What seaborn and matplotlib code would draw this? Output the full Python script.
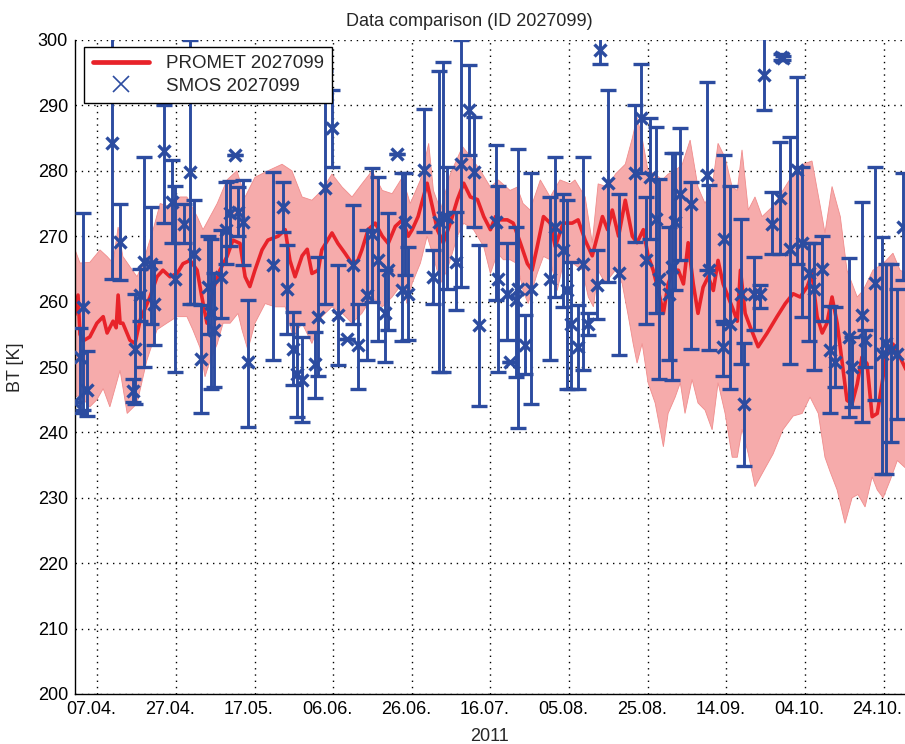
import numpy as np
import pandas as pd
import matplotlib
matplotlib.use("Agg")
import matplotlib.pyplot as plt
import matplotlib.dates as mdates
import matplotlib.transforms as mtransforms
from matplotlib.lines import Line2D
import seaborn as sns

# ---------------- data (days since 2011-04-01) ----------------
promet_day = [0.3, 1.1, 1.6, 2.4, 4.1, 5.9, 7.5, 8.5, 10, 10.8, 11.3, 11.8, 12.5, 14.3, 15.6, 16.9,
              19.4, 21.2, 22.7, 24.5, 26.3, 27.8, 29.6, 31.4, 32.6, 33.9, 35.4, 37.2, 39, 40.5, 42.3,
              43.6, 44.8, 46.1, 47.9, 49.4, 52, 53.8, 55, 56.3, 58.1, 59.4, 60.6, 62.2, 63.1, 65.7,
              67.2, 69, 70.8, 72.3, 73.3, 74.9, 76.7, 78.5, 80, 81.8, 83.6, 85.1, 86.1, 87.6, 89.9,
              91.2, 92.5, 94, 95.8, 97.6, 99.2, 100.9, 102.7, 104.3, 106, 107.3, 108.5, 110.3, 111.8,
              113.6, 115.4, 116.6, 117.9, 119.5, 121.2, 122.5, 124.5, 126.8, 128.3, 130.1, 131.9,
              133.2, 134.5, 135.8, 137, 138.6, 140.3, 142.1, 143.3, 144.9, 146.1, 147.4, 148.7, 150,
              151.2, 152.5, 153.8, 155.1, 156.3, 157.6, 158.8, 160.1, 161.4, 162.7, 163.9, 165.2,
              166.5, 167.8, 168.8, 169.6, 170.8, 172.1, 174.1, 176.4, 178.9, 181, 183, 184.8, 186.6,
              187.8, 189.1, 190.4, 191.6, 192.9, 194.2, 195.5, 196.7, 198, 199.3, 200.5, 201.8,
              203.1, 204.4, 205.6, 206.9, 208.4, 210.2, 212.2]
promet_bt = [258, 261, 255, 254, 254.6, 256.7, 257.7, 255.2, 257, 256, 261, 256.7, 256.7, 254.1, 253.6, 257.2,
             260.7, 263.8, 264.8, 263.8, 264.3, 265.8, 266.3, 264.8, 260.7, 256.7, 261.7, 264.8, 266.9, 269.4, 268.9,
             263.8, 262.3, 264.8, 267.9, 269.4, 270, 271, 266.3, 263.8, 267, 268, 264.3, 264.8, 267.9, 270.5,
             268.9, 267.4, 265.8, 266.3, 267.9, 271, 272, 270, 268.9, 271.5, 272.5, 270, 271, 273, 278.1,
             274.6, 271, 269, 272, 275.6, 278.1, 276, 275.6, 273, 271, 273, 272.5, 272.5, 272,
             269, 265.8, 264.8, 268.4, 273, 272, 268.4, 272, 272, 272.5, 269.4, 267,
             270, 273, 271, 274, 270, 275.5, 270, 269, 271, 267, 264.8, 261.7, 258.2,
             262.7, 264.8, 264.8, 262.7, 269, 262.7, 258.2, 262.2, 263.8, 261.7, 266.3, 262.7,
             260.7, 258.7, 257, 264.8, 258.2, 256.1, 253.1, 255.2, 257.7, 259.7, 261.2, 260.7, 262.3,
             264.3, 257.7, 255.2, 256.7, 260.7, 256.7, 250.6, 244.9, 244.4, 247.4, 251.5, 250.5,
             242.4, 242.9, 247.4, 252.5, 253.5, 251.5, 249]

band_hi_day = [0.3, 1.6, 4.1, 6.7, 8.5, 10, 11.3, 12.5, 16.1, 17.6, 20.2, 22, 24.5, 27, 28.8, 31.4, 32.9,
               34.7, 36.5, 39, 41.5, 43.6, 46.1, 49.4, 53, 55.5, 58.1, 60.6, 63.1, 65.7, 68.3, 70.8,
               73.3, 75.9, 78.5, 81, 83.6, 85.6, 88.2, 90.3, 91.5, 93.3, 95.8, 98.9, 100.9, 103.5, 106,
               108, 111, 112.8, 114.3, 116.1, 118.7, 121.2, 123.7, 126.3, 127.5, 130.1, 131.9, 133.4,
               136, 137.8, 140.3, 142.1, 143.3, 144.6, 146.1, 147.9, 149.7, 151.2, 153, 154.8, 156.8,
               158.8, 160.6, 162.4, 163.9, 165.7, 167.5, 168.8, 170, 171.6, 173.3, 175.1, 177.9, 180.4,
               183, 185.5, 187.8, 189.9, 191.1, 192.9, 195, 196.7, 199.3, 200.8, 203.3, 205.9, 208.4,
               210.2, 212.8]
band_hi = [268, 265.9, 266, 267.9, 266.9, 265.9, 271.4, 266.9, 263.8, 265.9, 271, 275, 274.5, 276, 276, 273, 271,
           273, 275, 278.6, 280, 276, 279, 280, 281, 280, 276, 275.5, 277, 279.5, 277.5, 276,
           278, 280, 277, 276.5, 279, 275, 278.6, 284.2, 277, 274, 279.5, 283.7, 282.2, 280, 277.5,
           278.6, 277, 277.5, 275, 274, 278.6, 276, 278.6, 278, 278.6, 276, 269, 278,
           277.5, 279.5, 281, 285, 288.2, 285, 280, 279.5, 278.6, 279.5, 280, 281, 284.7,
           277.5, 275, 277.5, 284.2, 282, 277.5, 277, 283.2, 274, 276, 273, 274.6, 277,
           279.5, 281, 281.5, 274.6, 270.5, 277.6, 273, 264.8, 260.7, 261.7, 264.8, 265.8, 267.4,
           264.8, 264]

band_lo_day = [0.3, 1.6, 4.1, 5.9, 7.5, 9.2, 11.8, 13.6, 16.1, 18.6, 21.2, 23.7, 26.3, 28.8, 30.3, 32.1,
               33.4, 34.7, 36.5, 38, 39.8, 41.8, 42.8, 44.3, 46.1, 48.7, 51.2, 53.8, 55.8, 58.1, 60.6,
               63.1, 65.7, 68.3, 70.8, 73.3, 75.9, 78.5, 81, 83.6, 84.8, 86.1, 88.2, 89.9, 91.5, 93.3,
               95, 97.6, 99.2, 101.7, 104.3, 106, 107.8, 109.3, 111, 112.8, 114.3, 115.6, 117.9, 119.5,
               121.2, 123, 124.5, 127.1, 129.4, 130.9, 132.2, 133.4, 135.2, 137.8, 139.5, 141.1, 142.3,
               143.3, 144.6, 146.1, 147.9, 149.2, 150, 151.2, 153, 154.3, 155.5, 157.3, 158.8, 160.6,
               162.4, 163.9, 165.7, 167.5, 168.8, 170, 171.6, 173.3, 175.4, 177.9, 180.4, 183, 185.3,
               187.3, 189.4, 191.1, 192.4, 194.2, 196.2, 198, 199.5, 201.3, 203.1, 204.4, 205.9, 207.7,
               209.5, 211.5, 212.8]
band_lo = [245.4, 245.7, 243.9, 245, 246.7, 243.9, 249.5, 242.9, 244.4, 251, 255.7, 256.7, 257.7, 257.7, 255.7, 253,
           248.5, 251, 253.5, 256.7, 256.7, 258.2, 255.7, 252.6, 256.7, 259.7, 259.2, 259.2, 254.6, 256.7, 253.6,
           257.7, 259.2, 258.2, 256.7, 258.2, 260.7, 259.2, 260.7, 262.8, 259.7, 262.8, 265.9, 270, 266.9, 262.8,
           264.8, 270, 272, 271, 268.4, 264.3, 267.4, 266.4, 266.4, 265.8, 261.7, 259.7, 264.3, 266.9,
           266.4, 261.7, 265.8, 265.8, 264.8, 260.7, 259.2, 264.8, 262.8, 264.8, 262.8, 257.7, 253.6,
           250.6, 253.6, 247.6, 244.5, 240.4, 237.8, 242.9, 245.4, 247.6, 242.9, 248.1, 244.5, 243.4,
           240.4, 247.6, 242.9, 236.2, 236.2, 240.5, 236.7, 231.7, 234, 236.7, 240.4, 242.5, 242.9,
           245.4, 242.9, 236.2, 234, 231.2, 226.1, 230, 230.5, 228.6, 233.2, 231.2, 230, 232.7,
           235.7, 234.6, 234]

smos_day = [0.0, 1.6, 2.4, 3.3, 9.7, 11.7, 15.0, 15.7, 16.9, 17.9, 19.7, 20.5, 23.0, 25.0, 25.8, 28.0,
            29.7, 30.5, 32.5, 34.2, 35.0, 35.8, 37.5, 38.8, 39.8, 41.0,
            41.8, 43.0, 44.3, 50.7, 53.3, 54.3, 55.8, 56.8, 58.0, 61.4, 62.2, 64.0, 65.7, 67.3, 69.5,
            71.0, 72.3, 74.5, 75.8, 77.4, 79.2, 80.0, 82.3, 83.6,
            84.3, 85.0, 89.0, 91.5, 92.8, 94.0, 95.0, 97.2, 98.5, 100.5, 101.7, 103.0, 107.3, 108.0,
            110.3, 111.0, 112.4, 112.9, 114.9, 116.2, 121.2, 122.5, 124.5, 125.5,
            126.5, 128.3, 129.6, 130.9, 133.2, 134.0, 136.0, 138.6, 142.9, 144.2, 145.5, 146.7, 148.0,
            148.8, 151.4, 152.3, 153.0, 154.3, 157.0, 161.2, 161.6, 165.1, 165.4, 167.0,
            169.7, 170.5, 173.0, 174.6, 175.5, 177.5, 179.6, 180.0, 180.4, 182.1, 183.9, 185.2, 187.0,
            188.3, 190.3, 192.3, 193.6, 197.2, 198.0, 200.6, 201.4, 203.7, 205.7, 206.5, 207.8, 209.5,
            211.0]
smos_bt = [244.6, 251.5, 259.2, 246.5, 284.2, 269.1, 246.4, 252.8, 261.0, 266.0, 265.8, 259.7, 283.0, 275.3, 263.5, 271.9,
           279.8, 267.3, 251.2, 262.2, 258.2, 255.6, 263.8, 270.9, 273.5, 282.4,
           273.7, 272.2, 250.8, 265.6, 274.5, 262.0, 252.8, 249.0, 248.0, 250.5, 257.7, 277.3, 286.5, 258.0, 254.3,
           265.6, 253.3, 261.0, 270.4, 266.3, 258.2, 264.8, 282.6, 261.7,
           272.2, 261.2, 280.1, 263.8, 272.2, 273.0, 273.0, 266.1, 281.1, 289.3, 279.8, 256.4, 272.2, 263.5,
           261.2, 250.8, 260.2, 262.0, 253.3, 262.0, 263.5, 271.4, 267.9, 261.7,
           256.5, 253.0, 265.8, 256.6, 262.5, 298.5, 278.1, 264.3, 279.6, 288.0, 266.3, 279.1, 272.7,
           263.5, 261.2, 265.3, 272.2, 276.5, 275.0, 279.3, 264.8, 253.0, 269.6, 256.6,
           261.2, 244.4, 261.2, 261.2, 294.6, 271.9, 275.8, 297.4, 297.2, 268.1, 280.1, 268.9, 264.3,
           262.0, 265.0, 252.6, 250.8, 254.6, 250.0, 257.9, 254.1, 262.8, 252.0, 253.6, 252.6, 252.0,
           271.4]
smos_lo = [244.6, 243.0, 243.5, 242.5, 263.5, 263.3, 244.6, 244.4, 257.0, 250.0, 256.5, 253.3, 272.0, 269.0, 249.2, 269.0,
           259.7, 259.7, 243.0, 255.0, 246.7, 246.9, 257.5, 265.8, 268.5, 282.4,
           270.0, 265.6, 240.8, 251.0, 270.7, 255.1, 247.2, 242.3, 241.6, 245.2, 248.7, 259.7, 280.6, 250.3, 254.3,
           256.6, 246.7, 251.0, 260.0, 254.0, 250.8, 255.6, 282.6, 254.0,
           264.0, 254.1, 270.7, 259.7, 249.2, 249.2, 262.0, 258.7, 262.2, 282.4, 271.4, 244.1, 260.2, 249.2,
           254.1, 250.8, 248.5, 240.6, 249.0, 244.4, 251.0, 260.7, 259.2, 246.7,
           246.7, 246.7, 249.5, 254.9, 257.4, 296.4, 263.0, 251.8, 269.1, 279.6, 256.6, 269.5, 258.2,
           248.2, 251.0, 248.0, 261.7, 266.3, 252.8, 264.8, 252.6, 248.7, 256.6, 246.7,
           250.5, 234.9, 255.6, 259.0, 289.3, 267.3, 267.3, 297.0, 296.9, 250.5, 265.8, 257.7, 254.0,
           249.5, 257.0, 242.9, 246.9, 242.3, 243.9, 241.6, 250.0, 244.9, 233.7, 233.7, 238.5, 242.0,
           263.3]
smos_hi = [244.6, 256.0, 273.5, 252.5, 305.0, 275.0, 248.2, 261.2, 265.0, 282.1, 274.5, 266.0, 290.0, 281.6, 277.6, 275.0,
           300.0, 275.5, 259.5, 270.0, 269.5, 264.3, 270.9, 278.3, 278.5, 282.4,
           277.5, 278.6, 260.2, 279.8, 278.3, 268.6, 258.4, 256.6, 254.6, 255.4, 266.8, 295.2, 292.3, 265.6, 254.3,
           274.7, 259.7, 270.9, 280.4, 279.1, 264.8, 273.5, 282.6, 279.6,
           279.6, 268.4, 289.5, 267.9, 295.2, 296.7, 280.6, 273.7, 300.0, 296.2, 288.3, 268.6, 283.9, 277.6,
           268.9, 250.8, 271.4, 283.4, 257.9, 279.6, 276.0, 282.1, 276.5, 275.5,
           266.0, 259.5, 282.1, 258.2, 267.9, 300.6, 292.3, 276.5, 290.0, 296.4, 276.0, 288.0, 286.7,
           278.8, 271.4, 282.7, 282.7, 286.5, 278.3, 293.6, 277.8, 257.1, 282.4, 277.6,
           272.7, 253.6, 266.8, 262.5, 300.3, 276.8, 284.4, 297.8, 297.5, 285.2, 294.4, 280.6, 268.9,
           268.9, 270.0, 259.4, 259.2, 266.6, 254.6, 275.3, 255.6, 280.6, 269.9, 265.8, 265.8, 262.0,
           279.6]

x_tick_dates = ["2011-04-07", "2011-04-27", "2011-05-17", "2011-06-06", "2011-06-26", "2011-07-16",
                "2011-08-05", "2011-08-25", "2011-09-14", "2011-10-04", "2011-10-24"]
y_ticks = [200, 210, 220, 230, 240, 250, 260, 270, 280, 290, 300]

title_text = "Data comparison (ID 2027099)"
promet_label = "PROMET 2027099"
smos_label = "SMOS 2027099"

# ---------------- helpers ----------------
base = pd.Timestamp("2011-04-01")


def to_dt(days):
    return base + pd.to_timedelta(np.asarray(days, dtype=float), unit="D")


RED = "#E8232A"
BAND = "#F6ABAB"
BLUE = "#2C4CA0"

sns.set_style("white")
plt.rcParams["font.family"] = ["Liberation Sans", "DejaVu Sans"]

fig = plt.figure(figsize=(9.05, 7.44), dpi=100)
ax = fig.add_axes([75 / 905, 50 / 744, 840 / 905, 654 / 744])

# band
hi_x = to_dt(band_hi_day).values
lo_x = to_dt(band_lo_day).values
poly_x = np.concatenate([hi_x, lo_x[::-1]])
poly_y = np.concatenate([np.asarray(band_hi), np.asarray(band_lo)[::-1]])
ax.fill(poly_x, poly_y, color=BAND, lw=0.6, ec="#F08C8C", zorder=1)

# PROMET line
promet_df = pd.DataFrame({"date": to_dt(promet_day), "bt": promet_bt})
sns.lineplot(data=promet_df, x="date", y="bt", ax=ax, color=RED, lw=2.6,
             estimator=None, sort=False, zorder=2, legend=False)

# SMOS with error bars
sb = np.asarray(smos_bt)
yerr = [sb - np.asarray(smos_lo), np.asarray(smos_hi) - sb]
ax.errorbar(to_dt(smos_day), sb, yerr=yerr, fmt="x", color=BLUE, ecolor=BLUE,
            elinewidth=2.1, capsize=5.5, capthick=2.1, markersize=9, mew=2.4, zorder=3)

# axes
ax.set_xlim(to_dt([0.33])[0], to_dt([214.0])[0])
ax.set_ylim(200, 300)
ax.set_yticks(y_ticks)
ax.set_xticks(pd.to_datetime(x_tick_dates))
ax.xaxis.set_major_formatter(mdates.DateFormatter("%d.%m."))
ax.tick_params(direction="in", length=5, width=1, labelsize=13, colors="black", pad=5)
ax.grid(True, color="black", linestyle=(0, (1, 3.5)), linewidth=1.0)
ax.set_axisbelow(True)
for s in ["top", "right"]:
    ax.spines[s].set_visible(False)
for s in ["left", "bottom"]:
    ax.spines[s].set_color("black")
    ax.spines[s].set_linewidth(1.0)

# MATLAB-style tick labels sit slightly left of their ticks
shift = mtransforms.ScaledTranslation(-6 / 100, 0, fig.dpi_scale_trans)
for lbl in ax.get_xticklabels():
    lbl.set_transform(lbl.get_transform() + shift)

ax.set_xlabel("2011", fontsize=13, labelpad=4)
ax.xaxis.set_label_coords((489 - 75) / 840, -0.052)
ax.set_ylabel("BT [K]", fontsize=13, labelpad=10)
ax.set_title(title_text, fontsize=13, pad=10, x=(469 - 75) / 840)

handles = [Line2D([], [], color=RED, lw=3.4),
           Line2D([], [], color=BLUE, marker="x", ls="none", markersize=11, mew=1.2)]
leg = ax.legend(handles, [promet_label, smos_label], loc="upper left",
                bbox_to_anchor=(0.011, 0.99), borderaxespad=0, frameon=True, fancybox=False,
                framealpha=1, edgecolor="black", handlelength=3.0, borderpad=0.45,
                labelspacing=0.3, handletextpad=0.9,
                prop={"family": ["Liberation Sans", "DejaVu Sans"], "size": 13.5})
leg.get_frame().set_linewidth(1.0)
leg.set_zorder(10)

fig.savefig("out.png", dpi=100)
